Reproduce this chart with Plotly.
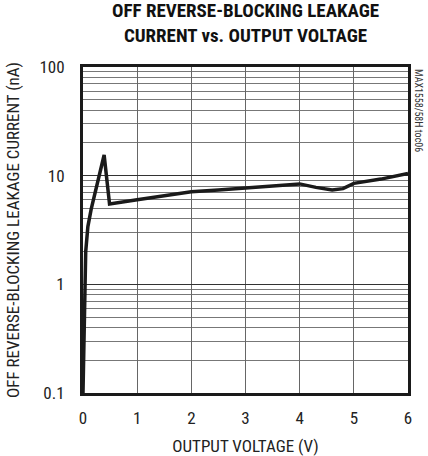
import plotly.graph_objects as go

voltage = [0.0, 0.04, 0.05, 0.09, 0.15, 0.39, 0.49, 1.0, 1.5, 2.0, 2.5, 3.0, 3.5, 4.0, 4.3, 4.6, 4.8, 5.0, 5.5, 6.0]
current = [0.1, 1.2, 2.0, 3.4, 4.9, 15.5, 5.5, 6.0, 6.5, 7.1, 7.4, 7.7, 8.0, 8.4, 7.8, 7.4, 7.6, 8.5, 9.3, 10.5]

x_ticks = [0, 1, 2, 3, 4, 5, 6]
y_ticks = [0.1, 1, 10, 100]
y_tick_labels = ["0.1", "1", "10", "100"]
title_lines = ["OFF REVERSE-BLOCKING LEAKAGE", "CURRENT vs. OUTPUT VOLTAGE"]

FONT = "Liberation Sans Narrow, Arial Narrow, Roboto Condensed, Liberation Sans, sans-serif"

fig = go.Figure()
fig.add_trace(go.Scatter(x=voltage, y=current, mode="lines",
                         line=dict(color="#1a1a1a", width=3.5), showlegend=False))

annotations = [
    dict(text="MAX1558/58H toc06", x=1.0, xref="paper", xanchor="left", xshift=3,
         y=1.0, yref="paper", yanchor="top", textangle=90, showarrow=False,
         font=dict(size=10, color="#333")),
    dict(text="<b>" + "<br>".join(title_lines) + "</b>", x=0.5, xref="paper", xanchor="center",
         y=1.0, yref="paper", yanchor="bottom", yshift=19, borderpad=0,
         showarrow=False, font=dict(family=FONT, size=19, color="#111")),
]

fig.update_layout(
    width=428, height=456,
    margin=dict(l=83, r=20, t=67, b=63),
    paper_bgcolor="white", plot_bgcolor="white",
    font=dict(family=FONT, color="#222", size=15),
    xaxis=dict(range=[0, 6], tickvals=x_ticks, ticktext=[str(v) for v in x_ticks],
               showgrid=True, gridcolor="#666", gridwidth=1, automargin=False,
               showline=True, linecolor="#1a1a1a", linewidth=3, mirror=True,
               ticks="", zeroline=False, ticklabelstandoff=8,
               title=dict(text="OUTPUT VOLTAGE (V)", font=dict(size=17), standoff=16),
               tickfont=dict(size=17)),
    yaxis=dict(type="log", range=[-1, 2], tickvals=y_ticks, ticktext=y_tick_labels,
               showgrid=True, gridcolor="#333", gridwidth=1, automargin=False,
               minor=dict(showgrid=True, gridcolor="#777", gridwidth=1,
                          tickvals=[m * 10**e for e in (-1, 0, 1) for m in range(2, 10)]),
               showline=True, linecolor="#1a1a1a", linewidth=3, mirror=True,
               ticks="", zeroline=False, ticklabelstandoff=12,
               title=dict(text="OFF REVERSE-BLOCKING LEAKAGE CURRENT (nA)", font=dict(size=17), standoff=16),
               tickfont=dict(size=17)),
    annotations=annotations,
)

fig.write_html("out.html", config={"displayModeBar": False},
               post_script="document.body.style.margin='0';document.body.style.padding='0';")
